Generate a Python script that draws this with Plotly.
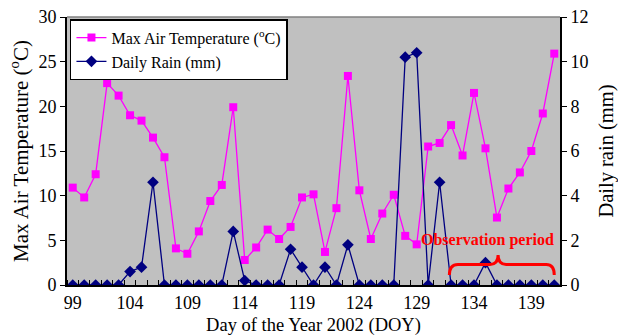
import plotly.graph_objects as go

days = list(range(99, 142))
max_temp = [10.9, 9.8, 12.4, 22.6, 21.2, 19.0, 18.4, 16.5, 14.3, 4.1,
            3.5, 6.0, 9.4, 11.2, 19.9, 2.8, 4.2, 6.2, 5.15, 6.5,
            9.8, 10.15, 3.7, 8.6, 23.4, 10.6, 5.15, 8.0, 10.1, 5.5,
            4.55, 15.5, 15.9, 17.9, 14.5, 21.5, 15.3, 7.55, 10.8, 12.6,
            15.0, 19.2, 25.9]
rain = [0, 0, 0, 0, 0, 0.6, 0.8, 4.6, 0, 0,
        0, 0, 0, 0, 2.4, 0.2, 0, 0, 0, 1.6,
        0.8, 0, 0.8, 0, 1.8, 0, 0, 0, 0, 10.2,
        10.4, 0, 4.6, 0, 0, 0, 1.0, 0, 0, 0,
        0, 0, 0]
x_tickvals = [99, 104, 109, 114, 119, 124, 129, 134, 139]
x_ticktext = [str(v) for v in x_tickvals]
y1_ticks = [0, 5, 10, 15, 20, 25, 30]
y2_ticks = [0, 2, 4, 6, 8, 10, 12]

FONT = "Liberation Serif"

fig = go.Figure()
fig.add_trace(go.Scatter(
    x=days, y=max_temp, name="Max Air Temperature (<sup>o</sup>C)",
    mode="lines+markers",
    line=dict(color="#FF00FF", width=1.3),
    marker=dict(symbol="square", size=8, color="#FF00FF"),
))
fig.add_trace(go.Scatter(
    x=days, y=rain, name="Daily Rain (mm)", yaxis="y2",
    mode="lines+markers",
    line=dict(color="#000080", width=1.3),
    marker=dict(symbol="diamond", size=9, color="#000080"),
))

# brace for observation period (in data coordinates)
brace = ("M 131.85,0.45 Q 131.85,0.92 132.6,0.92 L 135.4,0.92 "
         "Q 136.1,0.92 136.1,1.34 Q 136.1,0.92 136.8,0.92 "
         "L 140.3,0.92 Q 141.0,0.92 141.0,0.45")
fig.add_shape(type="path", path=brace, xref="x", yref="y2",
              line=dict(color="#FF0000", width=3))
fig.add_annotation(x=135.2, y=2.0, xref="x", yref="y2",
                   text="<b>Observation period</b>", showarrow=False,
                   font=dict(family=FONT, size=16, color="#FF0000"))
# top border of plot area
fig.add_shape(type="line", x0=0, x1=1, y0=1, y1=1, xref="paper", yref="paper",
              line=dict(color="#808080", width=1.5))

fig.update_layout(
    width=618, height=336,
    margin=dict(l=67, r=58, t=17, b=51),
    paper_bgcolor="white", plot_bgcolor="#C0C0C0",
    font=dict(family=FONT, size=16, color="black"),
    showlegend=True,
    legend=dict(x=0.006, y=0.992, xanchor="left", yanchor="top",
                bgcolor="white", bordercolor="black", borderwidth=1.5,
                font=dict(family=FONT, size=16),
                tracegroupgap=0, itemwidth=30),
    xaxis=dict(range=[98.5, 141.5], tickvals=x_tickvals, ticktext=x_ticktext,
               ticks="", showgrid=False, zeroline=False, automargin=False,
               showline=True, linecolor="black", linewidth=2,
               minor=dict(ticks="inside", ticklen=5, tick0=98.5, dtick=1,
                          tickcolor="black", tickwidth=1, showgrid=False),
               title=dict(text="Day of the Year 2002 (DOY)",
                          font=dict(family=FONT, size=18.5), standoff=9),
               tickfont=dict(family=FONT, size=18)),
    yaxis=dict(range=[0, 30], tickvals=y1_ticks, ticks="outside", ticklen=5,
               tickcolor="black", showgrid=False, zeroline=False,
               automargin=False,
               showline=True, linecolor="black", linewidth=2,
               title=dict(text="Max Air Temperature (<sup>o</sup>C)",
                          font=dict(family=FONT, size=21), standoff=4),
               tickfont=dict(family=FONT, size=18)),
    yaxis2=dict(range=[0, 12], tickvals=y2_ticks, ticks="outside", ticklen=5,
                tickcolor="black", overlaying="y", side="right",
                showgrid=False, zeroline=False, automargin=False,
                showline=True, linecolor="black", linewidth=2,
                title=dict(text="Daily rain (mm)",
                           font=dict(family=FONT, size=20.5), standoff=12),
                tickfont=dict(family=FONT, size=18)),
)

fig.write_html("out.html")
